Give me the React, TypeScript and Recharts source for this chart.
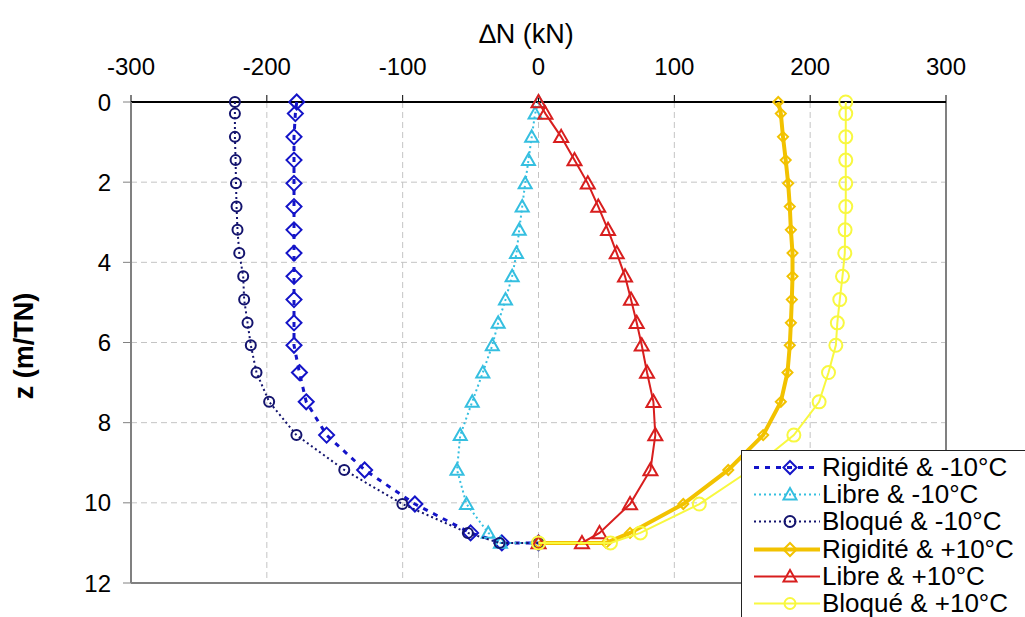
import { ScatterChart, Scatter, XAxis, YAxis, CartesianGrid, ReferenceLine, Legend } from 'recharts';

// depth (m/TN) of each computed point, shared by all series
const depths = [0, 0.29, 0.87, 1.45, 2.03, 2.61, 3.19, 3.77, 4.35, 4.93, 5.51, 6.07, 6.75, 7.48, 8.31, 9.18, 10.03, 10.75, 11, 11];

// ΔN (kN) per series
const rigiditeMinus = [-178, -179, -180, -180, -180, -180, -180, -180, -180, -180, -180, -180, -176, -171, -156, -128, -91, -50, -27, 0];
const libreMinus = [0, -2.5, -5, -7.4, -9.8, -12, -14.2, -16.2, -19.4, -24.3, -29.7, -34, -41, -48.8, -57.6, -60, -53, -37, -28, 0];
const bloqueMinus = [-223.5, -223.5, -223.5, -223, -222.7, -222.3, -221.6, -220.3, -217.4, -216.7, -214.2, -211.8, -207.6, -198.3, -178.2, -143, -100.2, -52, -28.7, 0];
const rigiditePlus = [176.5, 178.4, 180, 182, 183.8, 185, 185.8, 187, 187, 186.5, 185.8, 185, 183.3, 178.4, 165.4, 139.7, 106.6, 67.4, 49.8, 0];
const librePlus = [0, 5.1, 16.7, 26.5, 36.3, 44, 51.2, 57.6, 63.7, 68.1, 72.3, 76, 79.9, 84.6, 86, 82.4, 67.4, 44.9, 32, 0];
const bloquePlus = [226.2, 226.2, 226.2, 226.2, 226.2, 226.2, 225.7, 225.5, 223.8, 221.8, 220, 218.9, 213.5, 206.6, 188, 156, 118.4, 75, 53, 0];

const xTicks = [-300, -200, -100, 0, 100, 200, 300];
const yTicks = [0, 2, 4, 6, 8, 10, 12];

type Kind = 'diamond' | 'triangle' | 'circle';

const series = [
  { name: 'Rigidité & -10°C', values: rigiditeMinus, color: '#1414c8', width: 3, dash: '5 6', kind: 'diamond' as Kind, size: 7.5 },
  { name: 'Libre & -10°C', values: libreMinus, color: '#35bfe0', width: 2, dash: '2 3', kind: 'triangle' as Kind, size: 6.5 },
  { name: 'Bloqué & -10°C', values: bloqueMinus, color: '#14146e', width: 2, dash: '2 3', kind: 'circle' as Kind, size: 5 },
  { name: 'Rigidité & +10°C', values: rigiditePlus, color: '#f2c200', width: 4, dash: undefined, kind: 'diamond' as Kind, size: 5 },
  { name: 'Libre & +10°C', values: librePlus, color: '#d81e1e', width: 2, dash: undefined, kind: 'triangle' as Kind, size: 7 },
  { name: 'Bloqué & +10°C', values: bloquePlus, color: '#f8f840', width: 2, dash: undefined, kind: 'circle' as Kind, size: 6.5 },
];

function Marker({ cx, cy, kind, color, size }: { cx: number; cy: number; kind: Kind; color: string; size: number }) {
  if (kind === 'diamond') {
    const s = size;
    return <polygon points={`${cx},${cy - s} ${cx + s},${cy} ${cx},${cy + s} ${cx - s},${cy}`} fill="none" stroke={color} strokeWidth={2} />;
  }
  if (kind === 'triangle') {
    const s = size;
    return <polygon points={`${cx},${cy - s} ${cx + s},${cy + s * 0.75} ${cx - s},${cy + s * 0.75}`} fill="none" stroke={color} strokeWidth={2} />;
  }
  return <circle cx={cx} cy={cy} r={size} fill="none" stroke={color} strokeWidth={2} />;
}

function LegendBox() {
  return (
    <div style={{ border: '1.5px solid #222', background: '#fff', width: 300, height: 180, paddingTop: 3, boxSizing: 'border-box' }}>
      {series.map((s) => (
        <div key={s.name} style={{ display: 'flex', alignItems: 'center', height: 27.2 }}>
          <svg width={80} height={27} style={{ flex: 'none' }}>
            <line x1={12} y1={13.5} x2={78} y2={13.5} stroke={s.color} strokeWidth={s.width} strokeDasharray={s.dash} />
            <Marker cx={48} cy={13.5} kind={s.kind} color={s.color} size={s.kind === 'circle' ? 5.5 : 6.5} />
          </svg>
          <span style={{ fontSize: 26, lineHeight: '27px', color: '#000', whiteSpace: 'nowrap', marginLeft: 0 }}>{s.name}</span>
        </div>
      ))}
    </div>
  );
}

export default function App() {
  return (
    <div style={{ position: 'absolute', left: 0, top: 0, width: 1025, height: 617, overflow: 'hidden', background: '#fff', fontFamily: '"Liberation Sans", Arial, sans-serif' }}>
      <ScatterChart width={1025} height={617} margin={{ top: 0, right: 79, bottom: 34, left: 0 }}>
        <CartesianGrid stroke="#c4c4c4" strokeDasharray="6 4" />
        <XAxis
          type="number"
          dataKey="v"
          orientation="top"
          domain={[-300, 300]}
          ticks={xTicks}
          height={102}
          tickSize={7}
          tickMargin={20}
          axisLine={{ stroke: '#000', strokeWidth: 2 }}
          tickLine={{ stroke: '#000' }}
          tick={{ fontSize: 24, fill: '#000' }}
          label={{
            content: (p: any) => (
              <text x={p.viewBox.x + p.viewBox.width / 2 - 12} y={43} textAnchor="middle" fontSize={27} fill="#000">
                ∆N (kN)
              </text>
            ),
          }}
        />
        <YAxis
          type="number"
          dataKey="z"
          reversed
          domain={[0, 12]}
          ticks={yTicks}
          width={131}
          tickSize={8}
          tickMargin={12}
          axisLine={{ stroke: '#808080', strokeWidth: 2 }}
          tickLine={{ stroke: '#808080' }}
          tick={{ fontSize: 24, fill: '#000' }}
          label={{
            content: () => (
              <text x={24} y={346} transform="rotate(-90 24 346)" textAnchor="middle" dominantBaseline="central" fontSize={27} fontWeight="bold" fill="#000">
                z (m/TN)
              </text>
            ),
          }}
        />
        <ReferenceLine x={300} stroke="#808080" strokeWidth={2} />
        <ReferenceLine y={12} stroke="#808080" strokeWidth={2} />
        {series.map((s) => (
          <Scatter
            key={s.name}
            name={s.name}
            data={s.values.map((v, i) => ({ v, z: depths[i] }))}
            fill={s.color}
            line={{ stroke: s.color, strokeWidth: s.width, strokeDasharray: s.dash }}
            lineJointType="linear"
            shape={(p: any) => <Marker cx={p.cx} cy={p.cy} kind={s.kind} color={s.color} size={s.size} />}
            isAnimationActive={false}
          />
        ))}
        <Legend
          layout="horizontal"
          verticalAlign="middle"
          align="center"
          wrapperStyle={{ left: 741, top: 450, width: 300 }}
          content={() => <LegendBox />}
        />
      </ScatterChart>
    </div>
  );
}
